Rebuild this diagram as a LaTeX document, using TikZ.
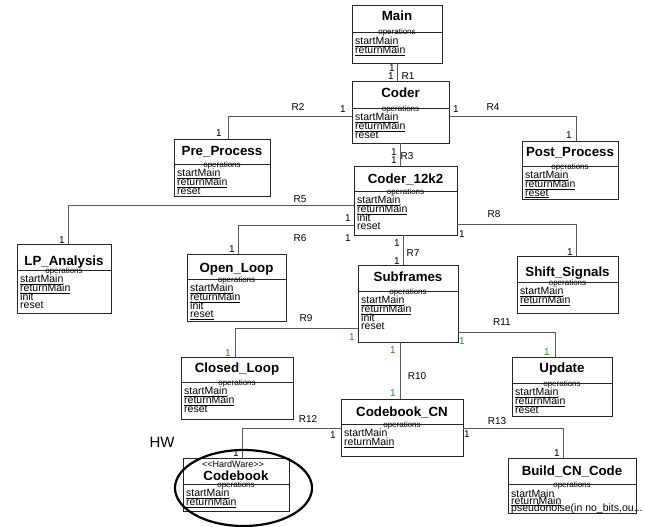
\documentclass[tikz,border=0pt]{standalone}
\usepackage{fontspec}
\setmainfont{Liberation Sans}
\usetikzlibrary{shapes.geometric}
\definecolor{mgreen}{RGB}{40,140,40}
\tikzset{
  classbox/.style={draw=black!85, line width=0.9pt, fill=white, inner sep=0pt},
  clsname/.style={font=\fontsize{13.3}{15}\selectfont\bfseries, inner sep=0pt, anchor=base},
  opsword/.style={font=\fontsize{8}{9}\selectfont, inner sep=0pt, anchor=base},
  opline/.style={font=\fontsize{10.5}{11}\selectfont, inner sep=0pt, anchor=base west},
  conn/.style={draw=black!65, line width=0.9pt},
  mult/.style={font=\fontsize{10}{11}\selectfont, inner sep=0pt},
  gmult/.style={mult, text=mgreen},
  rlabel/.style={font=\fontsize{10}{11}\selectfont, inner sep=0pt},
}
\def\opsgap{8.8}
\def\opsfirst{12.5}
\newcommand\tridot{...}
% id, L, T, R, B, sep, title baseline, title, ops
\newcommand\umlclass[9]{%
  \pgfmathsetmacro\ucw{#4-#2}%
  \pgfmathsetmacro\uch{#5-#3}%
  \node[classbox, minimum width=\ucw pt, minimum height=\uch pt] (#1) at ({(#2+#4)/2},{(#3+#5)/2}) {};
  \draw[draw=black!85, line width=0.9pt] (#2,#6) -- (#4,#6);
  \node[clsname] (#1-name) at ({(#2+#4)/2},#7) {#8};
  \node[opsword] (#1-opw) at ({(#2+#4)/2},#6+3) {operations};
  \foreach \t [count=\i] in {#9} {
    \node[opline] (#1-op\i) at (#2+3,{#6+\opsfirst+(\i-1)*\opsgap}) {\t};
  }
}
\newcommand\ul[1]{\underline{#1}}
\begin{document}
\begin{tikzpicture}[x=1pt,y=-1pt]
\useasboundingbox (0,0) rectangle (645,527);
\fill[white] (0,0) rectangle (645,527);

\umlclass{main}{352}{5}{442}{63}{32}{21}{Main}{\ul{startMain},\ul{returnMain}}
\umlclass{coder}{352}{81}{449}{143}{108}{97.5}{Coder}{\ul{startMain},\ul{returnMain},reset}
\umlclass{pre}{174}{139}{270}{196}{164}{155.5}{Pre\_Process}{\ul{startMain},\ul{returnMain},reset}
\umlclass{post}{522}{141}{618}{199}{166}{156}{Post\_Process}{\ul{startMain},\ul{returnMain},\ul{reset}}
\umlclass{ctk}{354}{166}{457}{235}{191}{183.5}{Coder\_12k2}{\ul{startMain},\ul{returnMain},init,reset}
\umlclass{lp}{17}{244}{111}{313}{270}{265}{LP\_Analysis}{\ul{startMain},\ul{returnMain},init,reset}
\umlclass{open}{187}{254}{286}{321}{279}{272}{Open\_Loop}{\ul{startMain},\ul{returnMain},init,\ul{reset}}
\umlclass{sub}{358}{265}{458}{342}{291}{281}{Subframes}{\ul{startMain},\ul{returnMain},init,reset}
\umlclass{shift}{517}{256}{618}{313}{282}{276}{Shift\_Signals}{\ul{startMain},\ul{returnMain}}
\umlclass{closed}{181}{357}{293}{419}{382}{372}{Closed\_Loop}{\ul{startMain},\ul{returnMain},reset}
\umlclass{cbcn}{341}{399}{463}{456}{424}{416}{Codebook\_CN}{startMain,\ul{returnMain}}
\umlclass{update}{512}{357}{612}{416}{383}{372.5}{Update}{\ul{startMain},\ul{returnMain},reset}
\umlclass{cb}{183}{458}{289}{511}{484}{480}{Codebook}{\ul{startMain},\ul{returnMain}}
\def\opsgap{7}
\def\opsfirst{13}
\umlclass{build}{508}{458}{636}{513}{484}{475}{Build\_CN\_Code}{startMain,\ul{returnMain},{pseudonoise(in no\_bits,ou\tridot}}
\node[font=\fontsize{9}{10}\selectfont, inner sep=0pt] (cb-st) at (233,464) {<{}<HardWare>{}>};

\draw[conn] (main.south) -- (main.south |- coder.north);
\draw[conn] ([yshift=-4pt]coder.west) -| ([xshift=6pt]pre.north);
\draw[conn] ([yshift=-4pt]coder.east) -| ([xshift=6pt]post.north);
\draw[conn] (coder.south) -- (coder.south |- ctk.north);
\draw[conn] ([yshift=-4.5pt]ctk.west) -| ([xshift=4pt]lp.north);
\draw[conn] ([yshift=-24.5pt]ctk.west) -| ([xshift=1.5pt]open.north);
\draw[conn] ([xshift=-2.5pt]ctk.south) -- ([xshift=-2.5pt]ctk.south |- sub.north);
\draw[conn] ([yshift=-23.5pt]ctk.east) -| ([xshift=8.5pt]shift.north);
\draw[conn] ([yshift=-24.5pt]sub.west) -| ([xshift=-2pt]closed.north);
\draw[conn] ([xshift=-8pt]sub.south) -- ([xshift=-8pt]sub.south |- cbcn.north);
\draw[conn] ([yshift=-28.5pt]sub.east) -| ([xshift=-7pt]update.north);
\draw[conn] ([yshift=-0.5pt]cbcn.west) -| ([xshift=6pt]cb.north);
\draw[conn] ([yshift=-0.5pt]cbcn.east) -| ([xshift=-9pt]build.north);

% labels
\node[mult] (l1a) at (392,68) {1};
\node[mult] (l1b) at (391,76) {1};
\node[rlabel] (r1) at (408,76) {R1};
\node[rlabel] (r2) at (298,107) {R2};
\node[mult] (l2a) at (343,109) {1};
\node[mult] (l2b) at (219,133) {1};
\node[rlabel] (r4) at (493,107) {R4};
\node[mult] (l4a) at (456,109) {1};
\node[mult] (l4b) at (569,135) {1};
\node[mult] (l3a) at (394,152) {1};
\node[mult] (l3b) at (394,160) {1};
\node[rlabel] (r3) at (407,156) {R3};
\node[rlabel] (r5) at (300,199) {R5};
\node[mult] (l5a) at (348,218) {1};
\node[mult] (l5b) at (62,240) {1};
\node[rlabel] (r6) at (300,238) {R6};
\node[mult] (l6a) at (348,238) {1};
\node[mult] (l6b) at (232,249) {1};
\node[mult] (l7a) at (397,243) {1};
\node[mult] (l7b) at (397,261) {1};
\node[rlabel] (r7) at (413,253) {R7};
\node[rlabel] (r8) at (494,214) {R8};
\node[mult] (l8a) at (462,234) {1};
\node[mult] (l8b) at (570,252) {1};
\node[rlabel] (r9) at (306,318) {R9};
\node[gmult] (l9a) at (352,337) {1};
\node[gmult] (l9b) at (228,353) {1};
\node[gmult] (l10a) at (393,350) {1};
\node[gmult] (l10b) at (393,393) {1};
\node[rlabel] (r10) at (417,376) {R10};
\node[rlabel] (r11) at (502,322) {R11};
\node[gmult] (l11a) at (462,341) {1};
\node[gmult] (l11b) at (547,352) {1};
\node[rlabel] (r12) at (308,419) {R12};
\node[mult] (l12a) at (333,435) {1};
\node[mult] (l12b) at (236,453) {1};
\node[rlabel] (r13) at (497,421) {R13};
\node[mult] (l13a) at (467,434) {1};
\node[mult] (l13b) at (557,453) {1};

\node[draw=black, ellipse, line width=2.2pt, minimum width=137pt, minimum height=76pt, inner sep=0pt] (hwring) at (243.5,488) {};
\node[font=\fontsize{15}{17}\selectfont, inner sep=0pt] (hw) at (162,442) {HW};
\end{tikzpicture}
\end{document}
